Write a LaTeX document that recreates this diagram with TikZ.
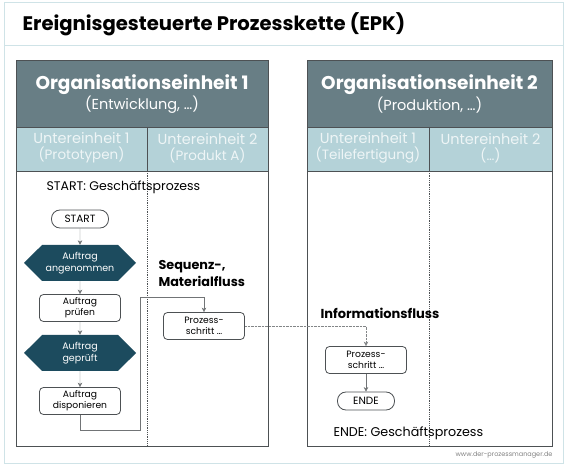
\documentclass[tikz,border=0pt]{standalone}
\usepackage{fontspec}
\setmainfont{Poppins}
\usetikzlibrary{calc,shapes.symbols,arrows.meta}
\definecolor{rahmen}{HTML}{CFE3E7}
\definecolor{kopf}{HTML}{687E85}
\definecolor{unter}{HTML}{B4D2D8}
\definecolor{untertext}{HTML}{EEF5F6}
\definecolor{ereignis}{HTML}{1C4B5E}
\definecolor{linie}{HTML}{4D5154}

\begin{document}
\begin{tikzpicture}[x=1pt,y=-1pt,
    funktion/.style={draw=linie,line width=0.8pt,rounded corners=4pt,fill=white,minimum width=81pt,minimum height=27pt,
      align=center,inner sep=1pt,font=\fontsize{9.2}{11}\selectfont},
    ereignisbox/.style={signal,signal to=east and west,fill=ereignis,text=white,minimum width=112pt,
      minimum height=36pt,align=center,inner sep=0pt,font=\fontsize{9.5}{12}\selectfont},
    startende/.style={draw=linie,line width=0.8pt,rounded corners=8.5pt,fill=white,minimum width=57pt,minimum height=18pt,
      inner sep=1pt,font=\fontsize{10.5}{12}\selectfont},
    fluss/.style={draw=linie!80,-{Stealth[length=4.5pt,width=4.5pt]}},
    info/.style={draw=linie!70,densely dotted,-{Stealth[length=4.5pt,width=4.5pt]}},
    einheit/.style={text=white,font=\bfseries\fontsize{18.5}{22}\selectfont},
    unterkopf/.style={text=untertext,align=center,font=\fontsize{14.5}{16}\selectfont}]
    \useasboundingbox (0,0) rectangle (566,468);
    \coordinate (o1) at (16,60);
    \coordinate (l1) at (268,446);
    \coordinate (o2) at (307,60);
    \coordinate (l2) at (552,446);
    \coordinate (k1) at (140,430);
    \coordinate (k2) at (140,297);
    % Rahmen und Titel
    \draw[rahmen,line width=1pt] (4,3) rectangle (563,463);
    \draw[rahmen,line width=1pt] (4,46) -- (563,46);
    \node[anchor=west,font=\bfseries\fontsize{19.6}{22}\selectfont] (titel) at (19,24) {Ereignisgesteuerte Prozesskette (EPK)};
    % Organisationseinheit 1
    \fill[kopf] (o1) rectangle (268,127);
    \fill[unter] (16,127) rectangle (268,171);
    \draw[linie,line width=0.8pt] (16,127) -- (268,127);
    \draw[linie,line width=0.8pt] (16,171) -- (268,171);
    \draw[linie,line width=0.6pt] (147,127) -- (147,171);
    \draw[linie,line width=0.8pt,densely dotted] (147,171) -- (147,446);
    \draw[linie,line width=0.8pt] (o1) rectangle (l1);
    \node[einheit] (oe1) at (142,85) {Organisationseinheit 1};
    \node[text=white,font=\fontsize{14.5}{16}\selectfont] (oe1t) at (142,105) {(Entwicklung, …)};
    \node[unterkopf] (ue11) at (81.5,148) {Untereinheit 1\\{\fontsize{13.5}{15}\selectfont(Prototypen)}};
    \node[unterkopf] (ue12) at (207.5,148) {Untereinheit 2\\{\fontsize{13.5}{15}\selectfont(Produkt A)}};
    % Organisationseinheit 2
    \fill[kopf] (o2) rectangle (552,127);
    \fill[unter] (307,127) rectangle (552,171);
    \draw[linie,line width=0.8pt] (307,127) -- (552,127);
    \draw[linie,line width=0.8pt] (307,171) -- (552,171);
    \draw[linie,line width=0.6pt] (429,127) -- (429,171);
    \draw[linie,line width=0.8pt,densely dotted] (429,171) -- (429,446);
    \draw[linie,line width=0.8pt] (o2) rectangle (l2);
    \node[einheit] (oe2) at (429.5,85) {Organisationseinheit 2};
    \node[text=white,font=\fontsize{14.5}{16}\selectfont] (oe2t) at (429.5,105) {(Produktion, …)};
    \node[unterkopf] (ue21) at (368,148) {Untereinheit 1\\{\fontsize{13.5}{15}\selectfont(Teilefertigung)}};
    \node[unterkopf] (ue22) at (490.5,148) {Untereinheit 2\\{\fontsize{13.5}{15}\selectfont(…)}};
    % Prozesskette
    \node[anchor=west,font=\fontsize{12.5}{14}\selectfont] (st) at (43,187) {START: Geschäftsprozess};
    \node[startende] (start) at (80,219) {START};
    \node[ereignisbox] (e1) at (80,263) {Auftrag\\angenommen};
    \node[funktion] (f1) at (80,308) {Auftrag\\prüfen};
    \node[ereignisbox] (e2) at (80,353) {Auftrag\\geprüft};
    \node[funktion] (f2) at (80,401) {Auftrag\\disponieren};
    \node[funktion] (p1) at (204,326) {Prozess-\\schritt …};
    \node[funktion] (p2) at (366,360) {Prozess-\\schritt …};
    \node[startende] (ende) at (366,401) {ENDE};
    \node[anchor=west,font=\fontsize{12.7}{14}\selectfont] (en) at (330,433) {ENDE: Geschäftsprozess};
    \node[anchor=west,align=left,font=\bfseries\fontsize{12.8}{17}\selectfont] (sm) at (155,273) {Sequenz-,\\Materialfluss};
    \node[anchor=west,font=\bfseries\fontsize{13}{15}\selectfont] (if) at (317,313) {Informationsfluss};
    \draw[fluss] (start) -- (e1);
    \draw[fluss] (e1) -- (f1);
    \draw[fluss] (f1) -- (e2);
    \draw[fluss] (e2) -- (f2);
    \draw[fluss] (f2.south) |- (k1) -- (k2) -| (p1.north);
    \draw[info] (p1.east) -| (p2.north);
    \draw[fluss] (p2) -- (ende);
    \node[anchor=east,text=gray,font=\fontsize{6.5}{8}\selectfont] (web) at (556,455) {www.der-prozessmanager.de};
\end{tikzpicture}
\end{document}
